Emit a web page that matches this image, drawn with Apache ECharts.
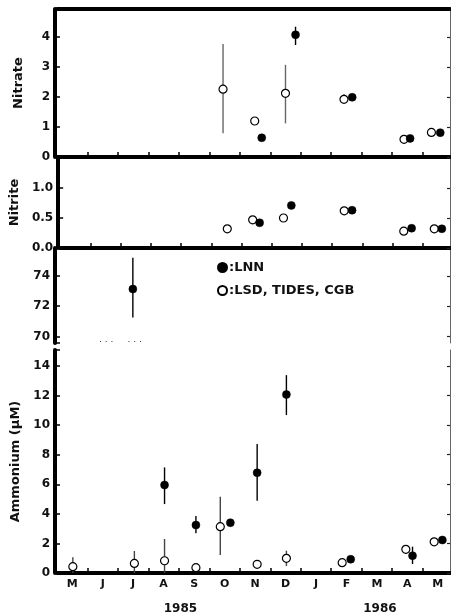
<!DOCTYPE html>
<html>
<head>
<meta charset="utf-8">
<script src="https://cdn.jsdelivr.net/npm/echarts@6/dist/echarts.min.js"></script>
<style>
html,body{margin:0;padding:0;background:#fff;}
#main{width:451px;height:615px;}
</style>
</head>
<body>
<div id="main"></div>
<script>
// x values are months counted from 1 May 1985
var monthLabels = ['M','J','J','A','S','O','N','D','J','F','M','A','M'];
var monthTicks = [1,2,3,4,5,6,7,8,9,10,11,12];
var monthMid = [0.5,1.5,2.5,3.5,4.5,5.5,6.5,7.5,8.5,9.5,10.5,11.5,12.5];
var yearLabels = ['1985','1986'];
var yearPos = [4.05, 10.6];

// nitrate
var no3OpenX = [5.45, 6.49, 7.5, 9.42, 11.39, 12.29];
var no3OpenY = [2.26, 1.2, 2.12, 1.92, 0.59, 0.82];
var no3OpenLo = [0.79, 1.08, 1.12, 1.8, null, null];
var no3OpenHi = [3.76, 1.33, 3.07, 2.1, null, null];
var no3FillX = [6.72, 7.83, 9.69, 11.59, 12.58];
var no3FillY = [0.64, 4.07, 1.99, 0.62, 0.81];
var no3FillLo = [null, 3.73, null, null, null];
var no3FillHi = [null, 4.34, null, null, null];

// nitrite
var no2OpenX = [5.53, 6.37, 7.39, 9.4, 11.37, 12.38];
var no2OpenY = [0.32, 0.47, 0.5, 0.62, 0.28, 0.32];
var no2FillX = [6.6, 7.65, 9.66, 11.63, 12.63];
var no2FillY = [0.42, 0.71, 0.63, 0.33, 0.32];

// ammonium, high part (above the break)
var nh4HiFillX = [2.49];
var nh4HiFillY = [73.13];
var nh4HiFillLo = [71.25];
var nh4HiFillHi = [75.2];

// ammonium, low part
var nh4FillX = [3.53, 4.56, 5.69, 6.57, 7.53, 9.64, 11.67, 12.65];
var nh4FillY = [5.95, 3.24, 3.4, 6.78, 12.07, 0.93, 1.17, 2.23];
var nh4FillLo = [4.66, 2.68, null, 4.89, 10.68, null, 0.61, null];
var nh4FillHi = [7.14, 3.85, null, 8.72, 13.38, null, 1.78, null];
var nh4OpenX = [0.52, 2.54, 3.53, 4.56, 5.36, 6.57, 7.53, 9.36, 11.45, 12.38];
var nh4OpenY = [0.43, 0.65, 0.83, 0.36, 3.13, 0.59, 0.99, 0.7, 1.6, 2.11];
var nh4OpenLo = [0, 0, 0, null, 1.22, null, 0.47, null, 1.3, null];
var nh4OpenHi = [1.06, 1.49, 2.3, null, 5.16, null, 1.51, null, 1.85, null];

var no3Ticks = [0,1,2,3,4];
var no2Ticks = [0,0.5,1.0];
var nh4HiTicks = [70,72,74];
var nh4LoTicks = [0,2,4,6,8,10,12,14];

var FONT = 'DejaVu Sans';
var chartDom = document.getElementById('main');
var myChart = echarts.init(chartDom);

function pts(xs, ys) {
  return xs.map(function (x, i) { return [x, ys[i]]; });
}
function bars(xs, lo, hi) {
  var out = [];
  xs.forEach(function (x, i) {
    if (lo[i] != null) out.push([x, lo[i], hi[i]]);
  });
  return out;
}
function barDrawer(color) {
  return function (params, api) {
    var a = api.coord([api.value(0), api.value(1)]);
    var b = api.coord([api.value(0), api.value(2)]);
    return {
      type: 'line',
      shape: {x1: a[0], y1: a[1], x2: b[0], y2: b[1]},
      style: {stroke: color, lineWidth: 1.4}
    };
  };
}

var grids = [
  {left: 57, width: 393, top: 9, height: 148},
  {left: 57, width: 393, top: 157, height: 91},
  {left: 57, width: 393, top: 248, height: 95},
  {left: 57, width: 393, top: 350, height: 223}
];

function xAx(gi, showLine, showLabels) {
  return {
    type: 'value', gridIndex: gi, min: 0, max: 12.9,
    axisLine: {show: showLine, onZero: false, lineStyle: {color: '#000', width: 4}},
    axisTick: {show: showLine, inside: true, length: 5, customValues: monthTicks, lineStyle: {color: '#000', width: 1.5}},
    axisLabel: {
      show: showLabels, customValues: monthMid, margin: 6,
      fontFamily: FONT, fontSize: 11, fontWeight: 'bold', color: '#111',
      formatter: function (v) { return monthLabels[Math.floor(v)]; }
    },
    splitLine: {show: false}
  };
}

function yAx(gi, min, max, ticks, fmt, name, gap) {
  return {
    type: 'value', gridIndex: gi, min: min, max: max, offset: 2,
    axisLine: {show: true, onZero: false, lineStyle: {color: '#000', width: 4}},
    axisTick: {show: true, inside: true, length: 5, customValues: ticks, lineStyle: {color: '#000', width: 1.5}},
    axisLabel: {
      customValues: ticks, margin: 5,
      fontFamily: FONT, fontSize: 12, fontWeight: 'bold', color: '#111',
      formatter: fmt
    },
    splitLine: {show: false},
    name: name, nameLocation: 'middle', nameRotate: 90, nameGap: gap,
    nameTextStyle: {fontFamily: FONT, fontSize: 13, fontWeight: 'bold', color: '#111'}
  };
}

function yRight(gi, min, max, ticks) {
  return {
    type: 'value', gridIndex: gi, min: min, max: max, position: 'right',
    axisLine: {show: true, onZero: false, lineStyle: {color: '#666', width: 1}},
    axisTick: {show: true, inside: true, length: 3, customValues: ticks, lineStyle: {color: '#222', width: 1.2}},
    axisLabel: {show: false},
    splitLine: {show: false}
  };
}

var intFmt = function (v) { return String(v); };
var decFmt = function (v) { return v.toFixed(1); };

var xAxes = [xAx(0, true, false), xAx(1, true, false), xAx(2, false, false), xAx(3, true, true)];
// thick top border of the first panel
xAxes.push({
  type: 'value', gridIndex: 0, min: 0, max: 12.9, position: 'top',
  axisLine: {show: true, onZero: false, lineStyle: {color: '#000', width: 4}},
  axisTick: {show: false}, axisLabel: {show: false}, splitLine: {show: false}
});
// year labels under the months
xAxes.push({
  type: 'value', gridIndex: 3, min: 0, max: 12.9, position: 'bottom', offset: 22,
  axisLine: {show: false, onZero: false}, axisTick: {show: false}, splitLine: {show: false},
  axisLabel: {
    customValues: yearPos, fontFamily: FONT, fontSize: 12, fontWeight: 'bold', color: '#111',
    formatter: function (v) { return yearLabels[yearPos.indexOf(v)]; }
  }
});

var yAxes = [
  yAx(0, 0, 4.93, no3Ticks, intFmt, 'Nitrate', 30),
  yAx(1, 0, 1.517, no2Ticks, decFmt, 'Nitrite', 30),
  yAx(2, 69.57, 75.84, nh4HiTicks.concat([69.57]), intFmt, '', 30),
  yAx(3, 0, 15.08, nh4LoTicks.concat([15.08]), intFmt, 'Ammonium (\u00b5M)', 30),
  yRight(0, 0, 4.93, no3Ticks),
  yRight(1, 0, 1.517, no2Ticks),
  yRight(2, 69.57, 75.84, nh4HiTicks),
  yRight(3, 0, 15.08, nh4LoTicks)
];
// the added ticks at the break ends carry no label
yAxes[2].axisLabel.customValues = nh4HiTicks;
yAxes[3].axisLabel.customValues = nh4LoTicks;

var FILL = 'LNN';
var OPEN = 'LSD, TIDES, CGB';

function filled(gi, data) {
  return {
    name: FILL, type: 'scatter', xAxisIndex: gi, yAxisIndex: gi, data: data,
    symbol: 'circle', symbolSize: 8, z: 5,
    itemStyle: {color: '#000', borderColor: '#000', borderWidth: 0.5, opacity: 1}
  };
}
function open(gi, data) {
  return {
    name: OPEN, type: 'scatter', xAxisIndex: gi, yAxisIndex: gi, data: data,
    symbol: 'circle', symbolSize: 8, z: 4,
    itemStyle: {color: '#fff', borderColor: '#000', borderWidth: 1.2, opacity: 1}
  };
}
function errors(gi, data, color) {
  return {
    type: 'custom', xAxisIndex: gi, yAxisIndex: gi, data: data, z: 2,
    renderItem: barDrawer(color), silent: true
  };
}

var option = {
  animation: false,
  backgroundColor: '#fff',
  grid: grids,
  xAxis: xAxes,
  yAxis: yAxes,
  legend: {
    orient: 'vertical', left: 212, top: 256, itemWidth: 9, itemHeight: 9, itemGap: 10,
    data: [FILL, OPEN],
    formatter: function (n) { return ':' + n; },
    textStyle: {fontFamily: FONT, fontSize: 13, fontWeight: 'bold', color: '#111', padding: [0, 0, 0, -3]}
  },
  graphic: [{
    type: 'text', left: 99, top: 335,
    style: {text: '. . .     . . .', fontFamily: FONT, fontSize: 9, fill: '#333'}
  }],
  series: [
    errors(0, bars(no3OpenX, no3OpenLo, no3OpenHi), '#666'),
    errors(0, bars(no3FillX, no3FillLo, no3FillHi), '#000'),
    filled(0, pts(no3FillX, no3FillY)),
    open(0, pts(no3OpenX, no3OpenY)),
    filled(1, pts(no2FillX, no2FillY)),
    open(1, pts(no2OpenX, no2OpenY)),
    errors(2, bars(nh4HiFillX, nh4HiFillLo, nh4HiFillHi), '#000'),
    filled(2, pts(nh4HiFillX, nh4HiFillY)),
    errors(3, bars(nh4OpenX, nh4OpenLo, nh4OpenHi), '#444'),
    errors(3, bars(nh4FillX, nh4FillLo, nh4FillHi), '#000'),
    filled(3, pts(nh4FillX, nh4FillY)),
    open(3, pts(nh4OpenX, nh4OpenY))
  ]
};
myChart.setOption(option);
</script>
</body>
</html>
